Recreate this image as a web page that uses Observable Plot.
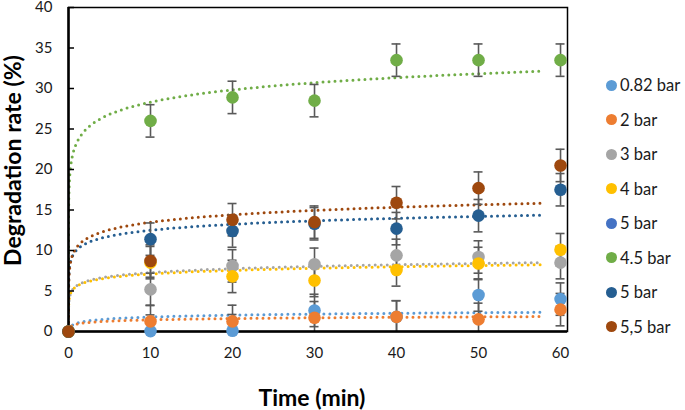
<!DOCTYPE html>
<html>
<head>
<meta charset="utf-8">
<script src="https://cdn.jsdelivr.net/npm/d3@7"></script>
<script src="https://cdn.jsdelivr.net/npm/@observablehq/plot@0.6"></script>
<style>
  html, body { margin: 0; padding: 0; background: #fff; }
  #wrap { position: relative; width: 685px; height: 410px; font-family: Lato, "Liberation Sans", sans-serif; }
  #legend { position: absolute; left: 606px; top: 0; }
  .li { position: absolute; left: 0; display: flex; align-items: center; white-space: nowrap; font-size: 16.5px; color: #1a1a1a; }
  .sw { width: 11px; height: 11px; border-radius: 50%; margin-right: 3px; }
</style>
</head>
<body>
<div id="wrap"><div id="legend"></div></div>
<script>
// ---- data ----
const times = [0, 10, 20, 30, 40, 50, 60];
const seriesNames = ["0.82 bar", "2 bar", "3 bar", "4 bar", "5 bar", "4.5 bar", "5 bar", "5,5 bar"];
const seriesColors = ["#5B9BD5", "#ED7D31", "#A5A5A5", "#FFC000", "#4472C4", "#70AD47", "#255E91", "#9E480E"];
const v082 = [0, 0.05, 0.1, 2.6, 1.8, 4.5, 4.0];
const v2 = [0, 1.25, 1.25, 1.7, 1.8, 1.5, 2.7];
const v3 = [0, 5.2, 8.1, 8.3, 9.4, 9.2, 8.5];
const v4 = [0, 8.5, 6.8, 6.3, 7.6, 8.4, 10.1];
const v5a = [null, null, null, null, null, null, null];
const v45 = [0, 26.0, 28.9, 28.5, 33.5, 33.5, 33.5];
const v5b = [0, 11.4, 12.4, 13.3, 12.7, 14.3, 17.5];
const v55 = [0, 8.7, 13.8, 13.5, 15.9, 17.7, 20.5];
const errSize = [0, 2, 2, 2, 2, 2, 2];
// logarithmic trendline coefficients y = a*ln(x) + b (per series, null = none)
const trendA = [0.33, 0.23, 0.70, 0.65, null, 2.18, 1.06, 1.34];
const trendB = [1.03, 0.91, 5.66, 5.60, null, 23.3, 10.06, 10.4];
const yTicks = [0, 5, 10, 15, 20, 25, 30, 35, 40];
const xTicks = [0, 10, 20, 30, 40, 50, 60];

const allValues = [v082, v2, v3, v4, v5a, v45, v5b, v55];
const points = [];
allValues.forEach((vals, s) => vals.forEach((v, i) => {
  if (v != null) points.push({s, t: times[i], v, lo: v - errSize[i], hi: v + errSize[i], e: errSize[i]});
}));
const bars = points.filter(d => d.e > 0);

const trendX = d3.range(-3, Math.log10(60) + 1e-9, 0.02).map(e => Math.pow(10, e));
const trends = [];
trendA.forEach((a, s) => {
  if (a == null) return;
  trendX.forEach(x => trends.push({s, x, y: a * Math.log(x) + trendB[s]}));
});

const font = "Lato, 'Liberation Sans', sans-serif";
const chart = Plot.plot({
  width: 685,
  height: 410,
  marginLeft: 68,
  marginRight: 118,
  marginTop: 7,
  marginBottom: 79,
  style: {fontFamily: font, fontSize: "15px", color: "#1a1a1a", background: "#fff", overflow: "visible"},
  x: {domain: [0, 60.85]},
  y: {domain: [0, 40]},
  color: {domain: d3.range(seriesColors.length), range: seriesColors},
  marks: [
    Plot.line(trends, {x: "x", y: "y", z: "s", stroke: "s", strokeWidth: 3, strokeDasharray: "0 6", strokeLinecap: "round", clip: true}),
    Plot.ruleX(bars, {x: "t", y1: "lo", y2: "hi", stroke: "#595959", strokeWidth: 1.6, clip: true}),
    Plot.ruleY(bars, {y: "hi", x1: "t", x2: "t", insetLeft: -4.5, insetRight: -4.5, stroke: "#595959", strokeWidth: 1.6, clip: true}),
    Plot.ruleY(bars, {y: "lo", x1: "t", x2: "t", insetLeft: -4.5, insetRight: -4.5, stroke: "#595959", strokeWidth: 1.6, clip: true}),
    Plot.frame({stroke: "#000", strokeWidth: 1.5}),
    Plot.ruleY(yTicks, {y: d => d, x1: 0, x2: 0, insetRight: -6, stroke: "#000", strokeWidth: 1.5}),
    Plot.ruleY([0], {stroke: "#000", strokeWidth: 2.5}),
    Plot.ruleX([0], {stroke: "#000", strokeWidth: 2.5}),
    Plot.axisY({ticks: yTicks, tickSize: 0, tickPadding: 16, label: null, fontSize: 15}),
    Plot.axisX({ticks: xTicks, tickSize: 0, tickPadding: 16, label: null, fontSize: 15}),
    Plot.text(["Degradation rate (%)"], {frameAnchor: "left", dx: -55, dy: -9, rotate: -90, textAnchor: "middle", lineAnchor: "middle", fontSize: 23, fontWeight: "bold", fill: "#000"}),
    Plot.text(["Time (min)"], {frameAnchor: "bottom", dx: -6, dy: 67, textAnchor: "middle", lineAnchor: "middle", fontSize: 23, fontWeight: "bold", fill: "#000"}),
    Plot.dot(points, {x: "t", y: "v", fill: "s", r: 6.3})
  ]
});
document.getElementById("wrap").prepend(chart);

const legendTops = [85, 119.5, 154, 188.5, 223, 257.5, 292, 326.5];
const legend = document.getElementById("legend");
seriesNames.forEach((name, i) => {
  const row = document.createElement("div");
  row.className = "li";
  row.style.top = (legendTops[i] - 10) + "px";
  row.style.height = "20px";
  const sw = document.createElement("span");
  sw.className = "sw";
  sw.style.background = seriesColors[i];
  row.appendChild(sw);
  row.appendChild(document.createTextNode(name));
  legend.appendChild(row);
});
</script>
</body>
</html>
